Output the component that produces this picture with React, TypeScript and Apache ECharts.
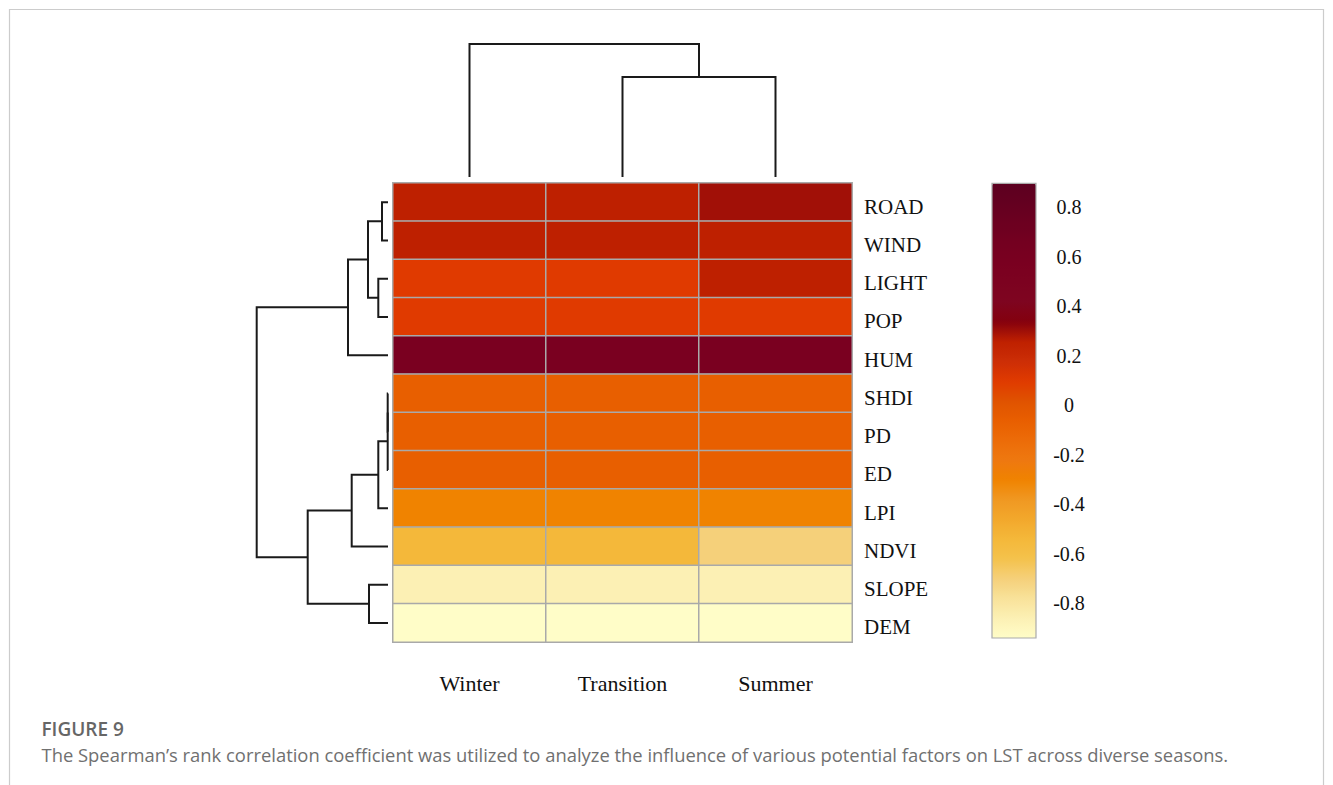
import React, { useEffect, useRef } from "react";
import * as echarts from "echarts";

// ---- data ----
const seasons = ["Winter", "Transition", "Summer"];
const factors = ["ROAD", "WIND", "LIGHT", "POP", "HUM", "SHDI", "PD", "ED", "LPI", "NDVI", "SLOPE", "DEM"];
const winterValues = [0.26, 0.26, 0.1, 0.1, 0.58, -0.06, -0.06, -0.06, -0.3, -0.54, -0.86, -0.94];
const transitionValues = [0.26, 0.26, 0.1, 0.1, 0.58, -0.06, -0.06, -0.06, -0.3, -0.54, -0.86, -0.94];
const summerValues = [0.3, 0.26, 0.26, 0.1, 0.58, -0.06, -0.06, -0.06, -0.3, -0.7, -0.86, -0.94];

const colorbarTicks = [0.8, 0.6, 0.4, 0.2, 0, -0.2, -0.4, -0.6, -0.8];
const scaleMin = -0.94;
const scaleMax = 0.9;
const palette = [
  "#FFFDC8", "#FCF0B4", "#F8E29A", "#F5D07A", "#F4C24C", "#F4B83A", "#F2A82C", "#F09822",
  "#F08300", "#EE7810", "#EC6C08", "#E85F00", "#E05200", "#E03A00", "#CC2E06", "#BE2000",
  "#84000E", "#7E0520", "#7C0220", "#7A0020", "#740020", "#6C0020", "#640020", "#5C0020",
];

// dendrogram merges: [childA, childB, height]; leaves are 0..n-1, merged nodes n, n+1, ...
const rowMerges: [number, number, number][] = [
  [0, 1, 0.06],
  [2, 3, 0.097],
  [12, 13, 0.2],
  [14, 4, 0.4],
  [5, 6, 0.003],
  [16, 7, 0.003],
  [17, 8, 0.097],
  [18, 9, 0.363],
  [10, 11, 0.19],
  [19, 20, 0.803],
  [15, 21, 1.313],
];
const colMerges: [number, number, number][] = [
  [1, 2, 1.0],
  [0, 3, 1.33],
];

function dendroSegments(nLeaves: number, merges: [number, number, number][], horizontal: boolean) {
  const pos: number[] = [];
  const hgt: number[] = [];
  for (let i = 0; i < nLeaves; i++) {
    pos.push(i + 0.5);
    hgt.push(0);
  }
  const segs: any[] = [];
  merges.forEach(([a, b, h]) => {
    const pa = pos[a], pb = pos[b], ha = hgt[a], hb = hgt[b];
    const pts = [
      [ha, pa],
      [h, pa],
      [h, pb],
      [hb, pb],
    ];
    segs.push({ coords: horizontal ? pts : pts.map(([hh, pp]) => [pp, hh]) });
    pos.push((pa + pb) / 2);
    hgt.push(h);
  });
  return segs;
}

export default function App() {
  const ref = useRef<HTMLDivElement>(null);
  useEffect(() => {
    if (!ref.current) return;
    const chart = echarts.init(ref.current, null, { renderer: "svg" });
    const heatData: any[] = [];
    const cols = [winterValues, transitionValues, summerValues];
    cols.forEach((arr, x) => arr.forEach((v, y) => heatData.push([x, y, v])));

    const serif = "'Liberation Serif', 'Times New Roman', serif";
    const HM = { left: 393, top: 183, width: 459, height: 459 };

    const option: any = {
      animation: false,
      backgroundColor: "#ffffff",
      grid: [
        { ...HM },
        { left: 256.7, top: HM.top, width: 131.3, height: HM.height },
        { left: HM.left, top: 44, width: HM.width, height: 133 },
        { left: 992, top: 183.3, width: 44, height: 454.7 },
      ],
      xAxis: [
        {
          gridIndex: 0,
          type: "category",
          data: seasons,
          position: "bottom",
          axisLine: { show: false },
          axisTick: { show: false },
          splitLine: { show: false },
          axisLabel: { fontFamily: serif, fontSize: 22, color: "#111", margin: 30 },
        },
        { gridIndex: 1, type: "value", min: 0, max: 1.313, inverse: true, show: false },
        { gridIndex: 2, type: "value", min: 0, max: 3, show: false },
        { gridIndex: 3, type: "value", min: 0, max: 1, show: false },
      ],
      yAxis: [
        {
          gridIndex: 0,
          type: "category",
          data: factors,
          inverse: true,
          position: "right",
          axisLine: { show: false },
          axisTick: { show: false },
          splitLine: { show: false },
          axisLabel: {
            margin: 12,
            formatter: (v: string) => `{a|${v}}`,
            rich: {
              a: {
                fontFamily: serif,
                fontSize: 21,
                color: "#111",
                padding: [9, 0, 0, 0],
              },
            },
          },
        },
        { gridIndex: 1, type: "value", min: 0, max: 12, inverse: true, show: false },
        { gridIndex: 2, type: "value", min: 0, max: 1.33, show: false },
        {
          gridIndex: 3,
          type: "value",
          min: -0.941,
          max: 0.896,
          position: "right",
          axisLine: { show: false },
          axisTick: { show: false },
          splitLine: { show: false },
          axisLabel: {
            customValues: colorbarTicks,
            formatter: (v: number) => String(Math.round(v * 10) / 10),
            fontFamily: serif,
            fontSize: 20,
            color: "#111",
            align: "center",
            margin: 33,
          },
        },
      ],
      visualMap: {
        type: "continuous",
        seriesIndex: 0,
        min: scaleMin,
        max: scaleMax,
        calculable: false,
        orient: "vertical",
        left: 992,
        top: 183.3,
        itemWidth: 44,
        itemHeight: 454.7,
        padding: 0,
        inRange: { color: palette },
        text: null,
        showLabel: false,
        hoverLink: false,
      },
      series: [
        {
          type: "heatmap",
          xAxisIndex: 0,
          yAxisIndex: 0,
          data: heatData,
          itemStyle: { borderColor: "#a9a9a9", borderWidth: 1.5 },
          emphasis: { disabled: true },
          label: { show: false },
        },
        {
          type: "lines",
          coordinateSystem: "cartesian2d",
          xAxisIndex: 1,
          yAxisIndex: 1,
          polyline: true,
          data: dendroSegments(factors.length, rowMerges, true),
          lineStyle: { color: "#1a1a1a", width: 2, opacity: 1 },
          silent: true,
        },
        {
          type: "lines",
          coordinateSystem: "cartesian2d",
          xAxisIndex: 2,
          yAxisIndex: 2,
          polyline: true,
          data: dendroSegments(seasons.length, colMerges, false),
          lineStyle: { color: "#1a1a1a", width: 2, opacity: 1 },
          silent: true,
        },
      ],
      graphic: [
        {
          type: "rect",
          shape: { x: 9.5, y: 9.5, width: 1314, height: 800 },
          style: { fill: "none", stroke: "#cccccc", lineWidth: 1.2 },
          silent: true,
          z: 0,
        },
        {
          type: "rect",
          shape: { x: 992, y: 183.3, width: 44, height: 454.7 },
          style: { fill: "none", stroke: "#aaaaaa", lineWidth: 1.2 },
          silent: true,
          z: 100,
        },
        {
          type: "text",
          x: 41.5,
          y: 729,
          style: {
            text: "FIGURE 9",
            font: "600 19px 'Open Sans', sans-serif",
            fill: "#666666",
            verticalAlign: "middle",
          },
        },
        {
          type: "text",
          x: 41.5,
          y: 754,
          style: {
            text: "The Spearman\u2019s rank correlation coefficient was utilized to analyze the influence of various potential factors on LST across diverse seasons.",
            font: "18.4px 'Open Sans', sans-serif",
            fill: "#707070",
            verticalAlign: "middle",
          },
        },
      ],
    };
    chart.setOption(option);
    return () => chart.dispose();
  }, []);
  return (
    <div
      ref={ref}
      style={{ position: "absolute", left: 0, top: 0, width: 1333, height: 785 }}
    />
  );
}
